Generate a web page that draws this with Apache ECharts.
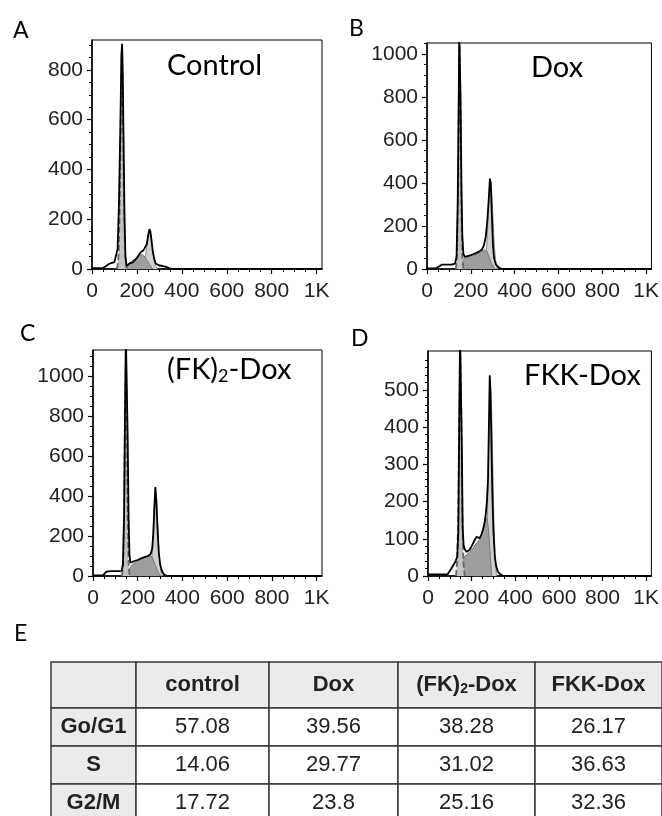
<!DOCTYPE html>
<html>
<head>
<meta charset="utf-8">
<script src="https://cdn.jsdelivr.net/npm/echarts@6/dist/echarts.min.js"></script>
<style>
html, body { margin: 0; padding: 0; background: #fff; }
#main { width: 662px; height: 816px; }
</style>
</head>
<body>
<div id="main"></div>
<script>
// ---- histogram data: [channel, count] ----
var ctrlHist = [[0,3],[45,3],[60,10],[75,20],[85,24],[100,28],[108,35],[114,80],[120,260],[126,560],[131,860],[134,905],[137,780],[141,480],[145,200],[149,50],[154,12],[160,18],[170,24],[180,26],[190,35],[200,45],[210,58],[218,68],[228,74],[236,82],[244,100],[250,135],[256,160],[260,150],[265,115],[270,75],[276,45],[283,22],[290,16],[300,14],[315,12],[330,9],[342,4],[350,1],[360,0],[1024,0]];
var ctrlG1 = [[112,0],[118,50],[122,180],[126,450],[130,760],[133,880],[136,760],[140,450],[144,180],[148,50],[154,0]];
var ctrlS = [[140,0],[150,10],[165,22],[180,32],[195,42],[210,52],[222,58],[232,52],[245,35],[258,16],[270,0]];
var ctrlG2 = [[215,0],[228,15],[238,50],[246,105],[252,145],[256,155],[260,145],[266,105],[274,50],[282,15],[292,0]];

var doxHist = [[0,3],[40,3],[55,12],[67,20],[90,20],[115,21],[128,25],[135,60],[140,300],[144,700],[147,1100],[150,1100],[153,800],[157,400],[161,160],[166,70],[172,56],[185,60],[200,64],[214,70],[228,76],[240,82],[252,92],[260,110],[268,150],[275,220],[282,330],[287,420],[291,400],[296,250],[301,110],[306,50],[315,20],[325,9],[335,3],[345,0],[1024,0]];
var doxG1 = [[132,0],[137,60],[141,300],[145,750],[149,1040],[153,750],[157,300],[161,60],[166,0]];
var doxS = [[145,0],[155,20],[165,40],[175,52],[190,58],[210,64],[225,68],[245,78],[262,88],[272,85],[282,60],[295,25],[310,0]];
var doxG2 = [[255,0],[265,30],[273,110],[280,260],[286,380],[290,400],[294,380],[300,260],[307,110],[314,30],[322,0]];

var fkHist = [[0,3],[45,3],[52,12],[60,22],[80,24],[110,24],[128,26],[134,60],[139,300],[143,800],[147,1200],[151,1200],[155,700],[159,300],[163,110],[167,66],[175,70],[185,75],[200,80],[215,88],[230,94],[245,100],[258,110],[265,140],[270,220],[275,360],[279,445],[283,380],[288,250],[294,120],[300,60],[308,25],[316,10],[325,3],[335,0],[1024,0]];
var fkG1 = [[130,0],[135,60],[139,320],[143,800],[147,1120],[151,800],[155,320],[159,60],[164,0]];
var fkS = [[148,0],[158,25],[168,45],[180,62],[200,75],[220,86],[240,95],[258,102],[268,85],[280,50],[292,18],[302,0]];
var fkG2 = [[250,0],[258,30],[265,110],[271,270],[276,390],[280,420],[284,390],[289,270],[295,110],[302,30],[310,0]];

var fkkHist = [[0,4],[60,4],[89,4],[105,18],[126,39],[134,52],[139,120],[143,400],[147,650],[151,650],[155,350],[159,130],[163,85],[168,72],[178,65],[190,70],[200,80],[210,92],[222,105],[230,108],[237,102],[245,112],[252,125],[258,140],[264,162],[270,200],[275,260],[279,400],[283,540],[286,500],[290,380],[295,220],[300,120],[306,55],[312,28],[320,12],[330,5],[342,1],[350,0],[1024,0]];
var fkkG1 = [[128,0],[134,40],[139,180],[143,430],[148,600],[153,430],[157,180],[162,40],[168,0]];
var fkkS = [[150,0],[158,30],[166,52],[178,58],[192,64],[208,76],[222,88],[236,98],[250,118],[262,142],[270,155],[277,130],[284,70],[292,0]];
var fkkG2 = [[258,0],[266,40],[272,150],[278,330],[283,470],[287,510],[291,470],[296,330],[302,150],[308,40],[314,0]];

// ---- axis ticks ----
var xMajor = [0, 200, 400, 600, 800, 1000];
var xMinor = [50,100,150,250,300,350,450,500,550,650,700,750,850,900,950];
var yMajorA = [0, 200, 400, 600, 800];
var yMajorB = [0, 200, 400, 600, 800, 1000];
var yMajorD = [0, 100, 200, 300, 400, 500];
var yMaxes = [920, 1050, 1130, 605];

// ---- table E ----
var tableCols = ['control', 'Dox', '(FK)2-Dox', 'FKK-Dox'];
var tablePhases = ['Go/G1', 'S', 'G2/M'];
var g0g1Pct = [57.08, 39.56, 38.28, 26.17];
var sPct = [14.06, 29.77, 31.02, 36.63];
var g2mPct = [17.72, 23.8, 25.16, 32.36];

function steps(from, to, step, skip) {
    var out = [];
    for (var v = from; v <= to; v += step) {
        if (skip && v % skip === 0) continue;
        out.push(v);
    }
    return out;
}

var grids = [
    {left: 92, top: 40, width: 230, height: 229},
    {left: 427, top: 43, width: 230, height: 226},
    {left: 93, top: 350, width: 229, height: 226},
    {left: 428, top: 351, width: 228, height: 225}
];
var yMajors = [yMajorA, yMajorB, yMajorB, yMajorD];
var yMinors = [steps(50, 900, 50, 200), steps(50, 1050, 50, 200), steps(50, 1100, 50, 200), steps(20, 600, 20, 100)];
var panels = [
    [ctrlHist, ctrlG1, ctrlS, ctrlG2],
    [doxHist, doxG1, doxS, doxG2],
    [fkHist, fkG1, fkS, fkG2],
    [fkkHist, fkkG1, fkkS, fkkG2]
];

var tickFont = {fontSize: 21, fontFamily: 'Liberation Sans', color: '#222'};
var xAxes = [], yAxes = [], series = [];

grids.forEach(function(g, i){
    xAxes.push({
        gridIndex: i, type: 'value', position: 'bottom', min: 0, max: 1024,
        axisLine: {show: true, onZero: false, lineStyle: {color: '#000', width: 1.5}},
        axisTick: {show: true, customValues: xMajor, length: 5, lineStyle: {color: '#000', width: 1.2}},
        axisLabel: Object.assign({customValues: xMajor, margin: 12, formatter: function(v){ return v === 1000 ? '1K' : String(v); }}, tickFont),
        splitLine: {show: false}
    });
    xAxes.push({
        gridIndex: i, type: 'value', position: 'bottom', min: 0, max: 1024,
        axisLine: {show: false, onZero: false},
        axisTick: {show: true, customValues: xMinor, length: 3, lineStyle: {color: '#000', width: 1}},
        axisLabel: {show: false}, splitLine: {show: false}
    });
    yAxes.push({
        gridIndex: i, type: 'value', position: 'left', min: 0, max: yMaxes[i],
        axisLine: {show: true, onZero: false, lineStyle: {color: '#000', width: 1.5}},
        axisTick: {show: true, customValues: yMajors[i], length: 5, lineStyle: {color: '#000', width: 1.2}},
        axisLabel: Object.assign({customValues: yMajors[i], margin: 9, formatter: function(v){ return String(v); }}, tickFont),
        splitLine: {show: false}
    });
    yAxes.push({
        gridIndex: i, type: 'value', position: 'left', min: 0, max: yMaxes[i],
        axisLine: {show: false, onZero: false},
        axisTick: {show: true, customValues: yMinors[i], length: 3, lineStyle: {color: '#000', width: 1}},
        axisLabel: {show: false}, splitLine: {show: false}
    });

    var p = panels[i];
    var base = {type: 'line', xAxisIndex: 2 * i, yAxisIndex: 2 * i, symbol: 'none', silent: true, clip: true};
    // G2 model peak
    series.push(Object.assign({}, base, {data: p[3], z: 2,
        lineStyle: {color: '#8a8a8a', width: 1}, areaStyle: {color: '#d0d0d0', opacity: 1}}));
    // S phase
    series.push(Object.assign({}, base, {data: p[2], z: 3,
        lineStyle: {color: '#777', width: 1}, areaStyle: {color: '#9e9e9e', opacity: 1}}));
    // G0/G1 model peak
    series.push(Object.assign({}, base, {data: p[1], z: 4,
        lineStyle: {color: '#666', width: 1.8, type: [6, 3]}, areaStyle: {color: '#c2c2c2', opacity: 1}}));
    // measured histogram
    series.push(Object.assign({}, base, {data: p[0], z: 5,
        lineStyle: {color: '#000', width: 1.8}}));
});

// ---- text and table drawn as graphic elements ----
var letterFont = {fontSize: 23, fontFamily: 'Lato', fill: '#000'};
var titleFont = {fontSize: 29, fontFamily: 'Lato', fill: '#000'};
var graphics = [
    {type: 'text', left: 13, top: 19, style: Object.assign({text: 'A'}, letterFont)},
    {type: 'text', left: 349, top: 17, style: Object.assign({text: 'B'}, letterFont)},
    {type: 'text', left: 20, top: 322, style: Object.assign({text: 'C'}, letterFont)},
    {type: 'text', left: 351, top: 327, style: Object.assign({text: 'D'}, letterFont)},
    {type: 'text', left: 14, top: 622, style: Object.assign({text: 'E'}, letterFont)},
    {type: 'text', left: 167, top: 51, style: Object.assign({text: 'Control'}, titleFont)},
    {type: 'text', left: 531, top: 53, style: Object.assign({text: 'Dox'}, titleFont)},
    {type: 'text', left: 167, top: 355, style: Object.assign({text: '(FK){s|2}-Dox',
        rich: {s: {fontSize: 18, fontFamily: 'Lato', padding: [14, 0, 0, 0]}}}, titleFont)},
    {type: 'text', left: 524, top: 361, style: Object.assign({text: 'FKK-Dox'}, titleFont)}
];

var colEdges = [51, 136, 269, 398, 535, 662];
var rowEdges = [662, 708, 746, 784, 822];
var tableRows = [g0g1Pct, sPct, g2mPct];
var cellFont = {fontSize: 22, fontFamily: 'Liberation Sans', fill: '#222', align: 'center', verticalAlign: 'middle'};

for (var r = 0; r < rowEdges.length - 1; r++) {
    for (var c = 0; c < colEdges.length - 1; c++) {
        var x0 = colEdges[c], y0 = rowEdges[r];
        var w = colEdges[c + 1] - x0, h = rowEdges[r + 1] - y0;
        var shaded = (r === 0 || c === 0);
        graphics.push({type: 'rect', shape: {x: x0, y: y0, width: w, height: h},
            style: {fill: shaded ? '#ebebeb' : '#fff', stroke: '#3a3a3a', lineWidth: 1.5}, z: 10});
        var txt = '', bold = false, rich = null;
        if (r === 0 && c > 0) {
            bold = true;
            txt = tableCols[c - 1];
            if (txt === '(FK)2-Dox') {
                txt = '(FK){s|2}-Dox';
                rich = {s: {fontSize: 14, fontWeight: 'bold', fontFamily: 'Liberation Sans', fill: '#222', padding: [9, 0, 0, 0]}};
            }
        } else if (r > 0 && c === 0) {
            bold = true;
            txt = tablePhases[r - 1];
        } else if (r > 0) {
            txt = String(tableRows[r - 1][c - 1]);
        }
        if (txt) {
            var st = Object.assign({text: txt, fontWeight: bold ? 'bold' : 'normal'}, cellFont);
            if (rich) st.rich = rich;
            graphics.push({type: 'text', x: x0 + w / 2, y: y0 + h / 2, style: st, z: 11});
        }
    }
}

var chart = echarts.init(document.getElementById('main'));
chart.setOption({
    animation: false,
    backgroundColor: '#fff',
    grid: grids.map(function(g){
        return Object.assign({show: true, borderColor: '#000', borderWidth: 1, backgroundColor: 'transparent'}, g);
    }),
    xAxis: xAxes,
    yAxis: yAxes,
    series: series,
    graphic: graphics
});
</script>
</body>
</html>
